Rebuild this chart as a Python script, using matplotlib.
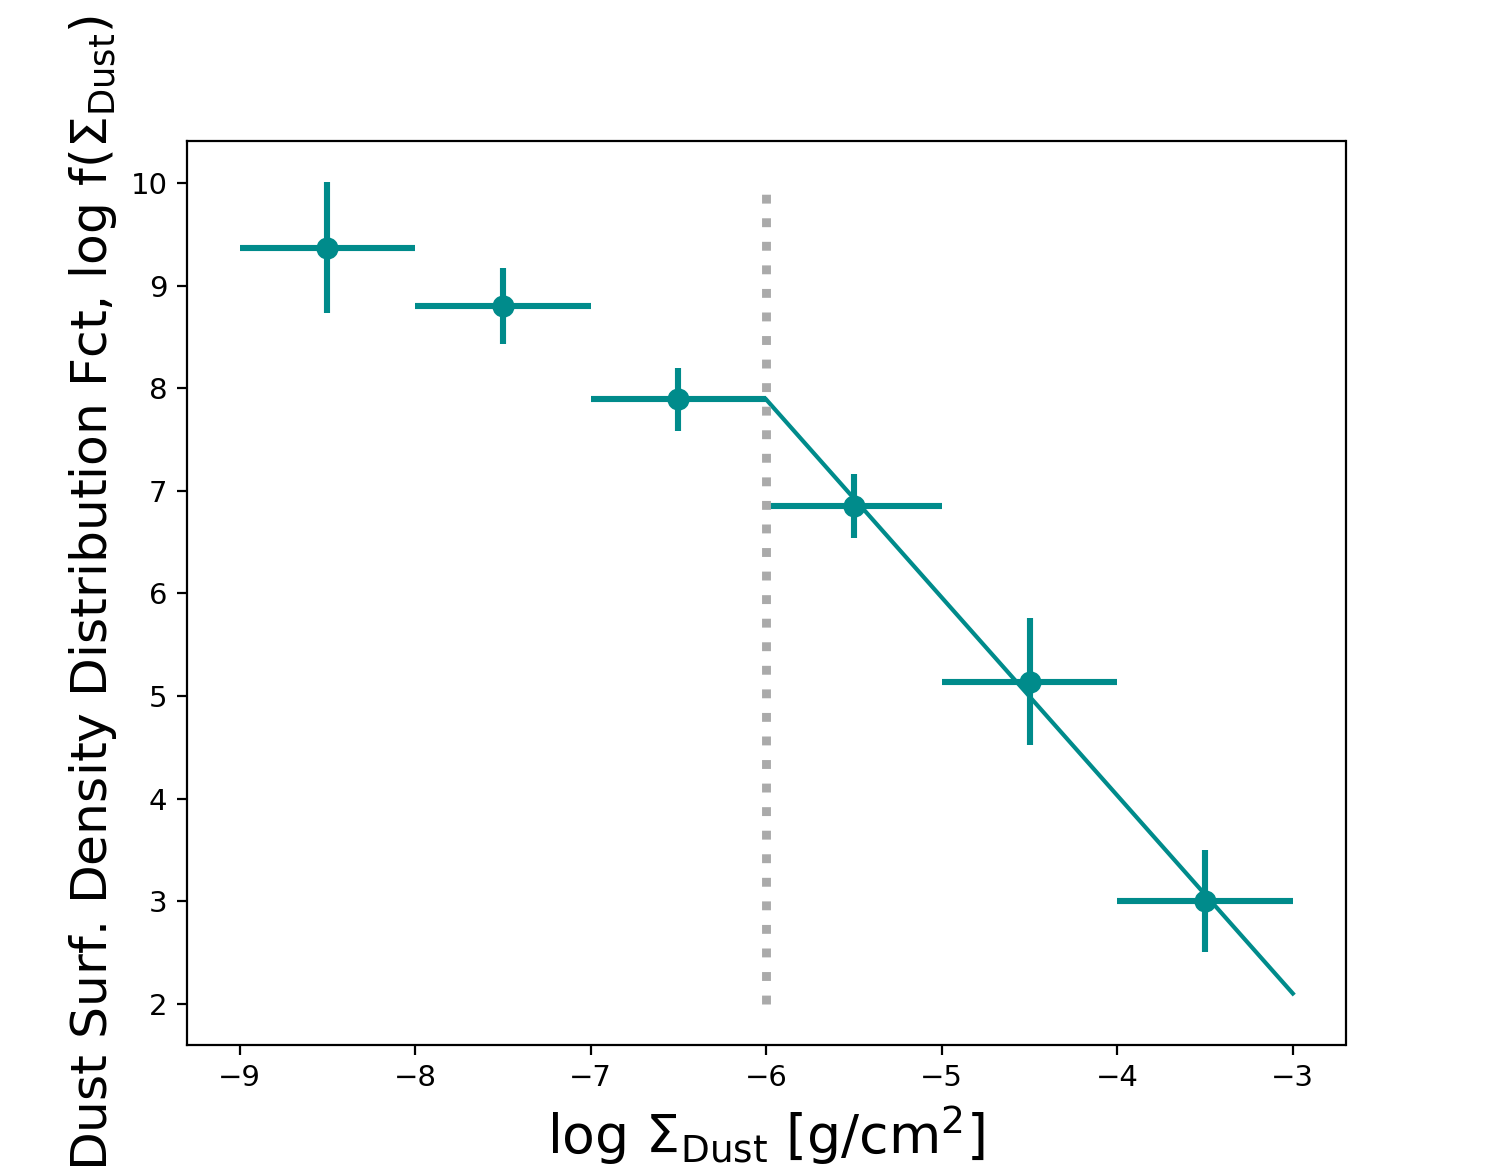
import matplotlib
matplotlib.use("Agg")
import matplotlib.pyplot as plt

# binned dust surface density distribution
log_sigma = [-8.5, -7.5, -6.5, -5.5, -4.5, -3.5]
log_f = [9.37, 8.80, 7.89, 6.85, 5.14, 3.00]
xerr = [0.5, 0.5, 0.5, 0.5, 0.5, 0.5]
yerr = [0.64, 0.37, 0.31, 0.31, 0.62, 0.50]

# power-law fit above the break
fit_x = [-6.0, -3.0]
fit_y = [7.89, 2.10]

# completeness limit
limit_x = -6.0
limit_y = [2.0, 9.91]

teal = "#008b8b"

fig = plt.figure(figsize=(1495 / 200, 1174 / 200), dpi=200)
ax = fig.add_subplot(111)

ax.errorbar(log_sigma, log_f, xerr=xerr, yerr=yerr, fmt="o", color=teal,
            ms=7, elinewidth=2.2, capsize=0)
ax.plot(fit_x, fit_y, color=teal, lw=1.5)
ax.plot([limit_x, limit_x], limit_y, color="#aaaaaa", lw=3.2, ls=":")

ax.set_xlabel(r"log $\Sigma_{\rm Dust}$ [g/cm$^2$]", fontsize=19.3)
ax.set_ylabel(r"Dust Surf. Density Distribution Fct, log f($\Sigma_{\rm Dust}$)",
              fontsize=18.15)
ax.tick_params(labelsize=10.5)

fig.savefig("out.png", dpi=200)
